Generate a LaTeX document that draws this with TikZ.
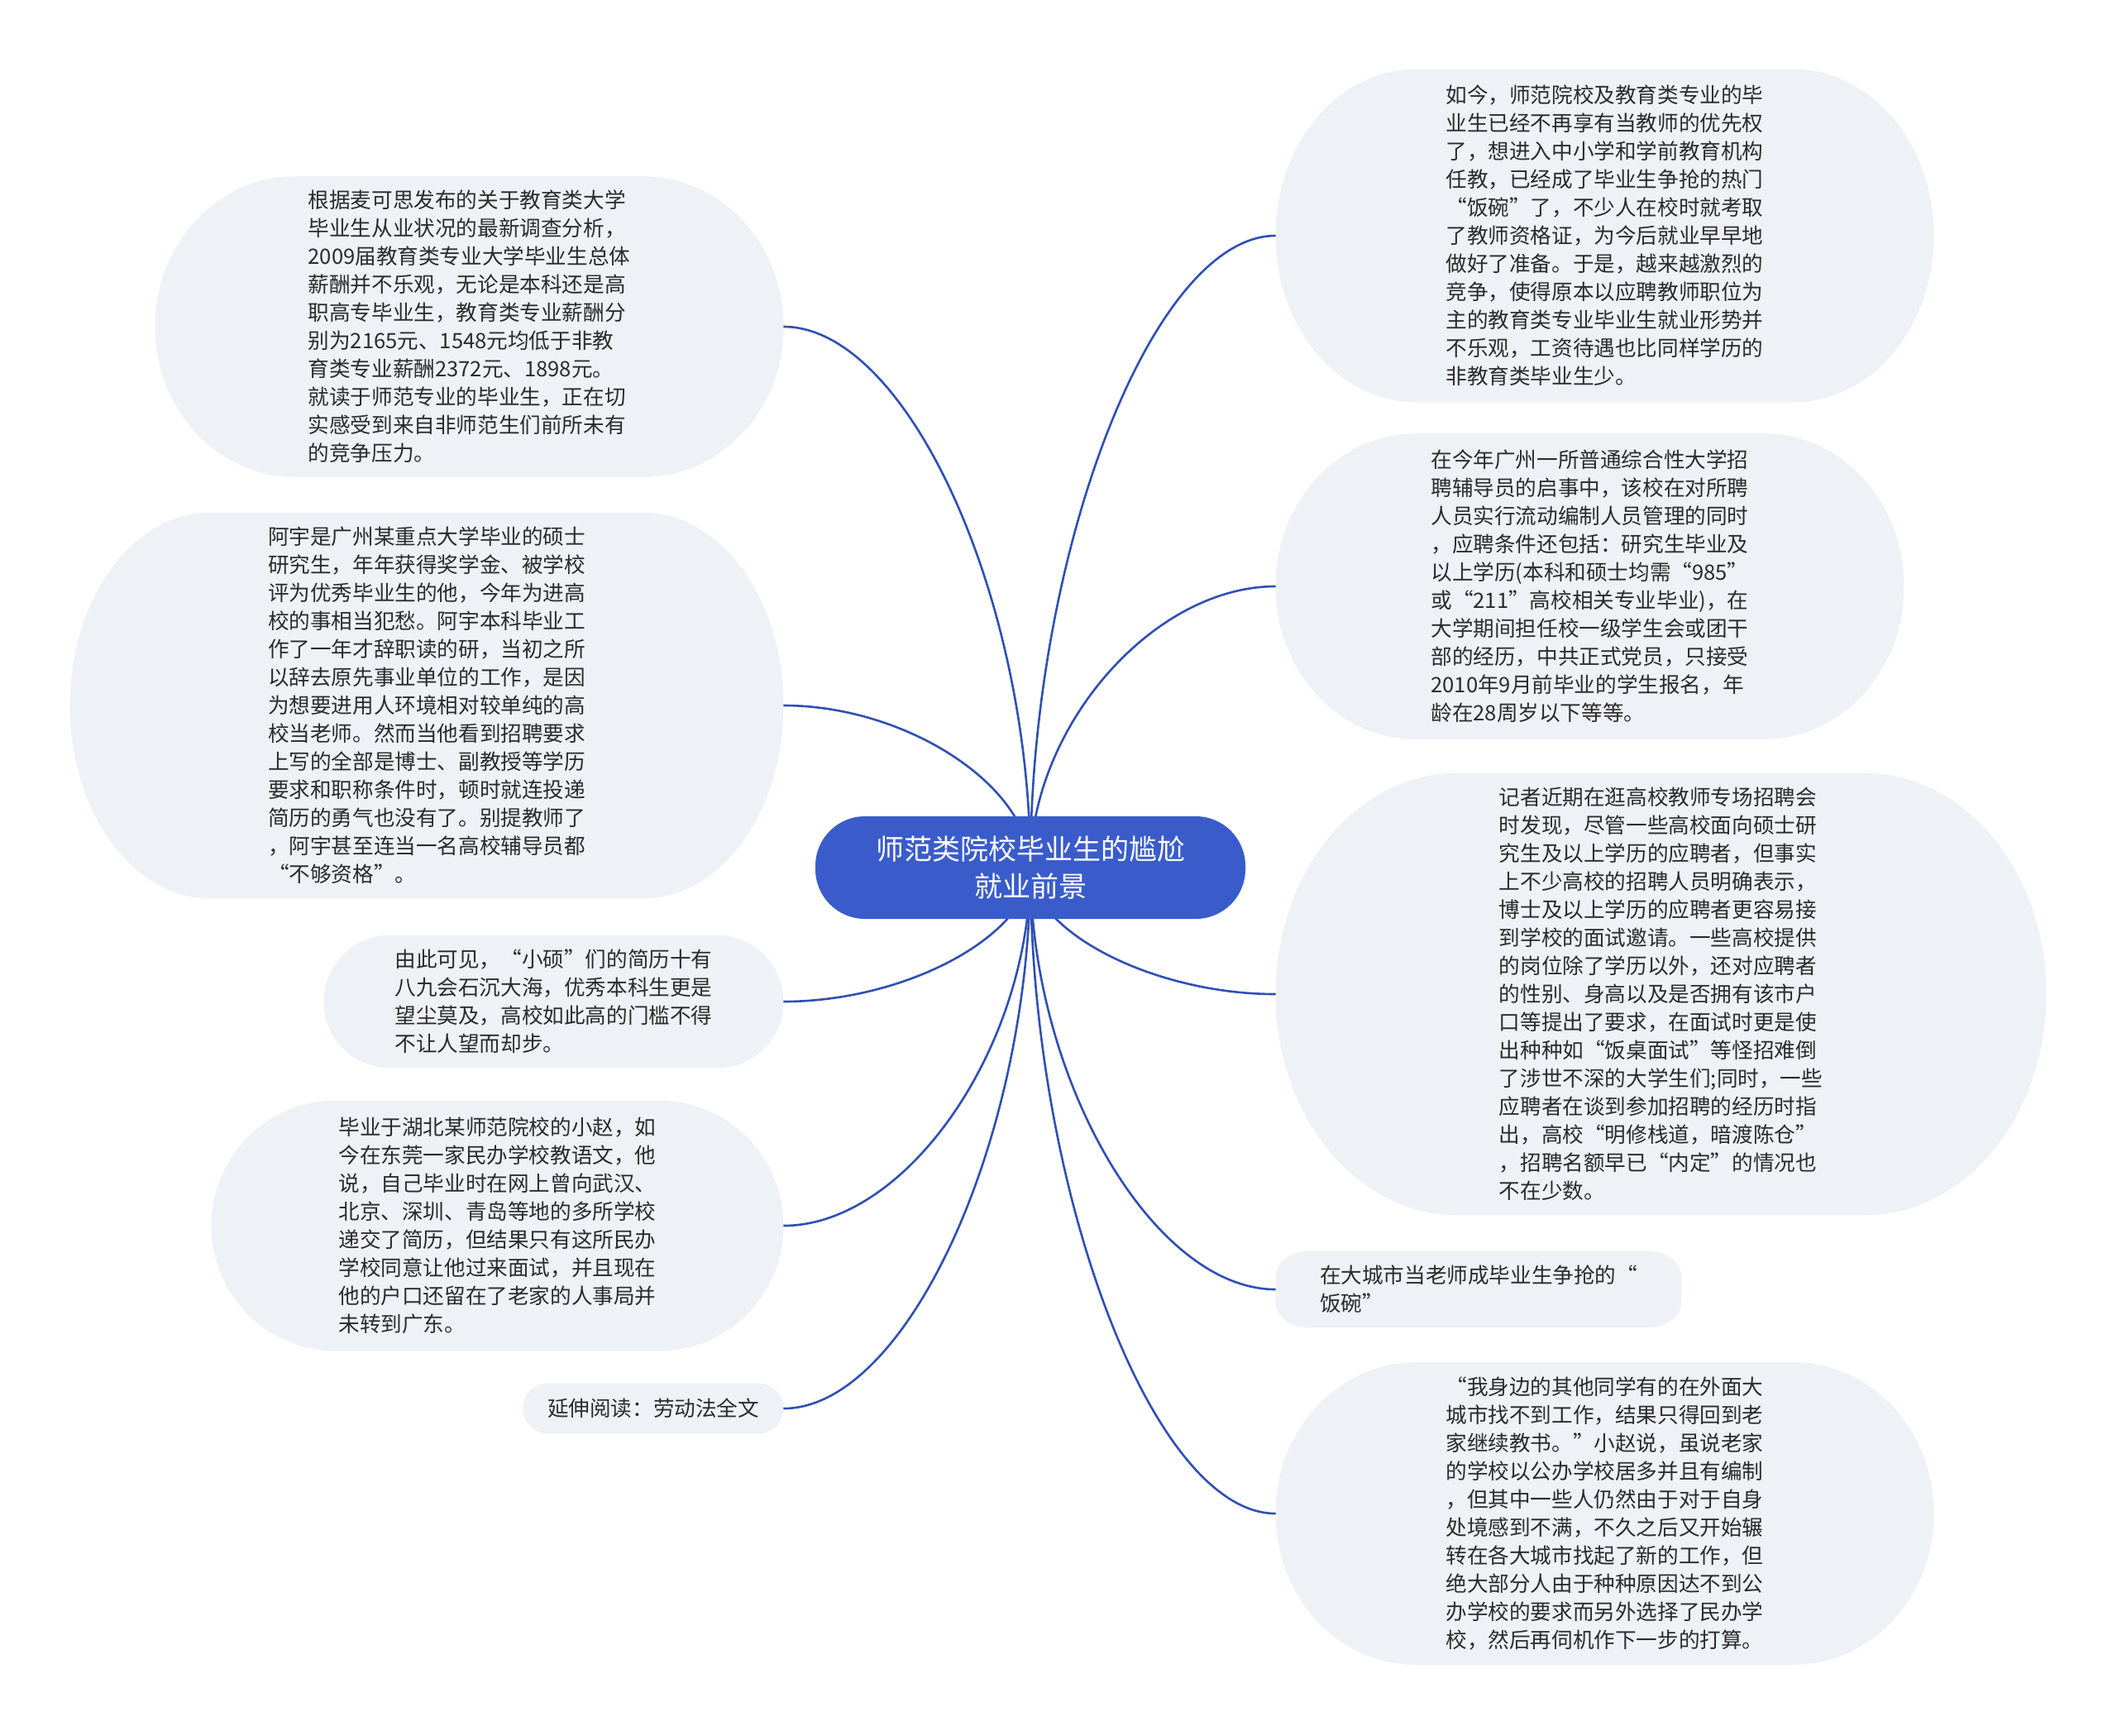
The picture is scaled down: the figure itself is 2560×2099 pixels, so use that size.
\documentclass[tikz,border=0pt]{standalone}
\usepackage{fontspec}
\setmainfont{Noto Sans CJK SC}
\usetikzlibrary{calc,backgrounds}
\definecolor{bubc}{HTML}{EEF1F5}
\definecolor{cenc}{HTML}{3A5CCB}
\definecolor{linkc}{HTML}{2F4FB5}
\definecolor{txtc}{HTML}{2B2B2B}
% bubble with elliptical corners: #1 node name, #2 rx, #3 ry (px)
\newcommand\mmbubble[3]{%
  \fill[bubc] ($(#1.north west)+(#2,0)$) -- ($(#1.north east)+(-#2,0)$)
   .. controls ($(#1.north east)+(-0.4477*#2,0)$) and ($(#1.north east)+(0,0.4477*#3)$) .. ($(#1.north east)+(0,#3)$)
   -- ($(#1.south east)+(0,-#3)$)
   .. controls ($(#1.south east)+(0,-0.4477*#3)$) and ($(#1.south east)+(-0.4477*#2,0)$) .. ($(#1.south east)+(-#2,0)$)
   -- ($(#1.south west)+(#2,0)$)
   .. controls ($(#1.south west)+(0.4477*#2,0)$) and ($(#1.south west)+(0,-0.4477*#3)$) .. ($(#1.south west)+(0,-#3)$)
   -- ($(#1.north west)+(0,#3)$)
   .. controls ($(#1.north west)+(0,0.4477*#3)$) and ($(#1.north west)+(0.4477*#2,0)$) .. cycle;}
\newcommand\mmlink[2]{%
  \draw[link] (#1) .. controls ($(#1)!0.5!(#1 |- #2)$) and ($(#2)!0.5!(#1 |- #2)$) .. (#2);}
\begin{document}
\begin{tikzpicture}[x=0.5pt,y=-0.5pt,
  txt/.style={inner sep=0pt, align=left, text=txtc, font=\fontsize{12.8pt}{17pt}\selectfont},
  link/.style={draw=linkc, line width=1.3pt}]
\useasboundingbox (0,0) rectangle (2560,2099);

% central topic
\node[fill=cenc, text=white, rounded corners=30pt, minimum width=260pt, minimum height=62pt,
      inner sep=0pt, align=center, font=\fontsize{17pt}{22.5pt}\selectfont] (c) at (1246,1049)
  {师范类院校毕业生的尴尬\\就业前景};

% left branches
\node[txt, minimum width=379.5pt, minimum height=181.5pt] (l1) at (567.5,395) {根据麦可思发布的关于教育类大学\\
毕业生从业状况的最新调查分析，\\
2009届教育类专业大学毕业生总体\\
薪酬并不乐观，无论是本科还是高\\
职高专毕业生，教育类专业薪酬分\\
别为2165元、1548元均低于非教\\
育类专业薪酬2372元、1898元。\\
就读于师范专业的毕业生，正在切\\
实感受到来自非师范生们前所未有\\
的竞争压力。};

\node[txt, minimum width=431pt, minimum height=233pt] (l2) at (516,853) {阿宇是广州某重点大学毕业的硕士\\
研究生，年年获得奖学金、被学校\\
评为优秀毕业生的他，今年为进高\\
校的事相当犯愁。阿宇本科毕业工\\
作了一年才辞职读的研，当初之所\\
以辞去原先事业单位的工作，是因\\
为想要进用人环境相对较单纯的高\\
校当老师。然而当他看到招聘要求\\
上写的全部是博士、副教授等学历\\
要求和职称条件时，顿时就连投递\\
简历的勇气也没有了。别提教师了\\
，阿宇甚至连当一名高校辅导员都\\
“不够资格”。};

\node[txt, minimum width=277.5pt, minimum height=80pt] (l3) at (669.5,1211) {由此可见，“小硕”们的简历十有\\
八九会石沉大海，优秀本科生更是\\
望尘莫及，高校如此高的门槛不得\\
不让人望而却步。};

\node[txt, minimum width=345.5pt, minimum height=151pt] (l4) at (601.5,1482) {毕业于湖北某师范院校的小赵，如\\
今在东莞一家民办学校教语文，他\\
说，自己毕业时在网上曾向武汉、\\
北京、深圳、青岛等地的多所学校\\
递交了简历，但结果只有这所民办\\
学校同意让他过来面试，并且现在\\
他的户口还留在了老家的人事局并\\
未转到广东。};

\node[txt, minimum width=157pt, minimum height=30pt] (l5) at (790,1703) {延伸阅读：劳动法全文};

% right branches
\node[txt, minimum width=397.5pt, minimum height=201pt] (r1) at (1940.5,285) {如今，师范院校及教育类专业的毕\\
业生已经不再享有当教师的优先权\\
了，想进入中小学和学前教育机构\\
任教，已经成了毕业生争抢的热门\\
“饭碗”了，不少人在校时就考取\\
了教师资格证，为今后就业早早地\\
做好了准备。于是，越来越激烈的\\
竞争，使得原本以应聘教师职位为\\
主的教育类专业毕业生就业形势并\\
不乐观，工资待遇也比同样学历的\\
非教育类毕业生少。};

\node[txt, minimum width=379.5pt, minimum height=184.5pt] (r2) at (1922.5,709) {在今年广州一所普通综合性大学招\\
聘辅导员的启事中，该校在对所聘\\
人员实行流动编制人员管理的同时\\
，应聘条件还包括：研究生毕业及\\
以上学历(本科和硕士均需“985”\\
或“211”高校相关专业毕业)，在\\
大学期间担任校一级学生会或团干\\
部的经历，中共正式党员，只接受\\
2010年9月前毕业的学生报名，年\\
龄在28周岁以下等等。};

\node[txt, minimum width=465.5pt, minimum height=267pt] (r3) at (2008.5,1202) {记者近期在逛高校教师专场招聘会\\
时发现，尽管一些高校面向硕士研\\
究生及以上学历的应聘者，但事实\\
上不少高校的招聘人员明确表示，\\
博士及以上学历的应聘者更容易接\\
到学校的面试邀请。一些高校提供\\
的岗位除了学历以外，还对应聘者\\
的性别、身高以及是否拥有该市户\\
口等提出了要求，在面试时更是使\\
出种种如“饭桌面试”等怪招难倒\\
了涉世不深的大学生们;同时，一些\\
应聘者在谈到参加招聘的经历时指\\
出，高校“明修栈道，暗渡陈仓”\\
，招聘名额早已“内定”的情况也\\
不在少数。};

\node[txt, minimum width=245pt, minimum height=46pt] (r4) at (1788,1559) {在大城市当老师成毕业生争抢的“\\
饭碗”};

\node[txt, minimum width=397.5pt, minimum height=182.5pt] (r5) at (1940.5,1830) {“我身边的其他同学有的在外面大\\
城市找不到工作，结果只得回到老\\
家继续教书。”小赵说，虽说老家\\
的学校以公办学校居多并且有编制\\
，但其中一些人仍然由于对于自身\\
处境感到不满，不久之后又开始辗\\
转在各大城市找起了新的工作，但\\
绝大部分人由于种种原因达不到公\\
办学校的要求而另外选择了民办学\\
校，然后再伺机作下一步的打算。};

\begin{scope}[on background layer]
  \fill[white] (0,0) rectangle (2560,2099);
  \mmbubble{l1}{170}{181}
  \mmbubble{l2}{170}{233}
  \mmbubble{l3}{80}{80}
  \mmbubble{l4}{151}{151}
  \mmbubble{l5}{30}{30}
  \mmbubble{r1}{170}{201}
  \mmbubble{r2}{170}{184}
  \mmbubble{r3}{220}{267}
  \mmbubble{r4}{40}{32}
  \mmbubble{r5}{170}{182}
  \mmlink{c.center}{l1.east}
  \mmlink{c.center}{l2.east}
  \mmlink{c.center}{l3.east}
  \mmlink{c.center}{l4.east}
  \mmlink{c.center}{l5.east}
  \mmlink{c.center}{r1.west}
  \mmlink{c.center}{r2.west}
  \mmlink{c.center}{r3.west}
  \mmlink{c.center}{r4.west}
  \mmlink{c.center}{r5.west}
\end{scope}
\end{tikzpicture}
\end{document}
